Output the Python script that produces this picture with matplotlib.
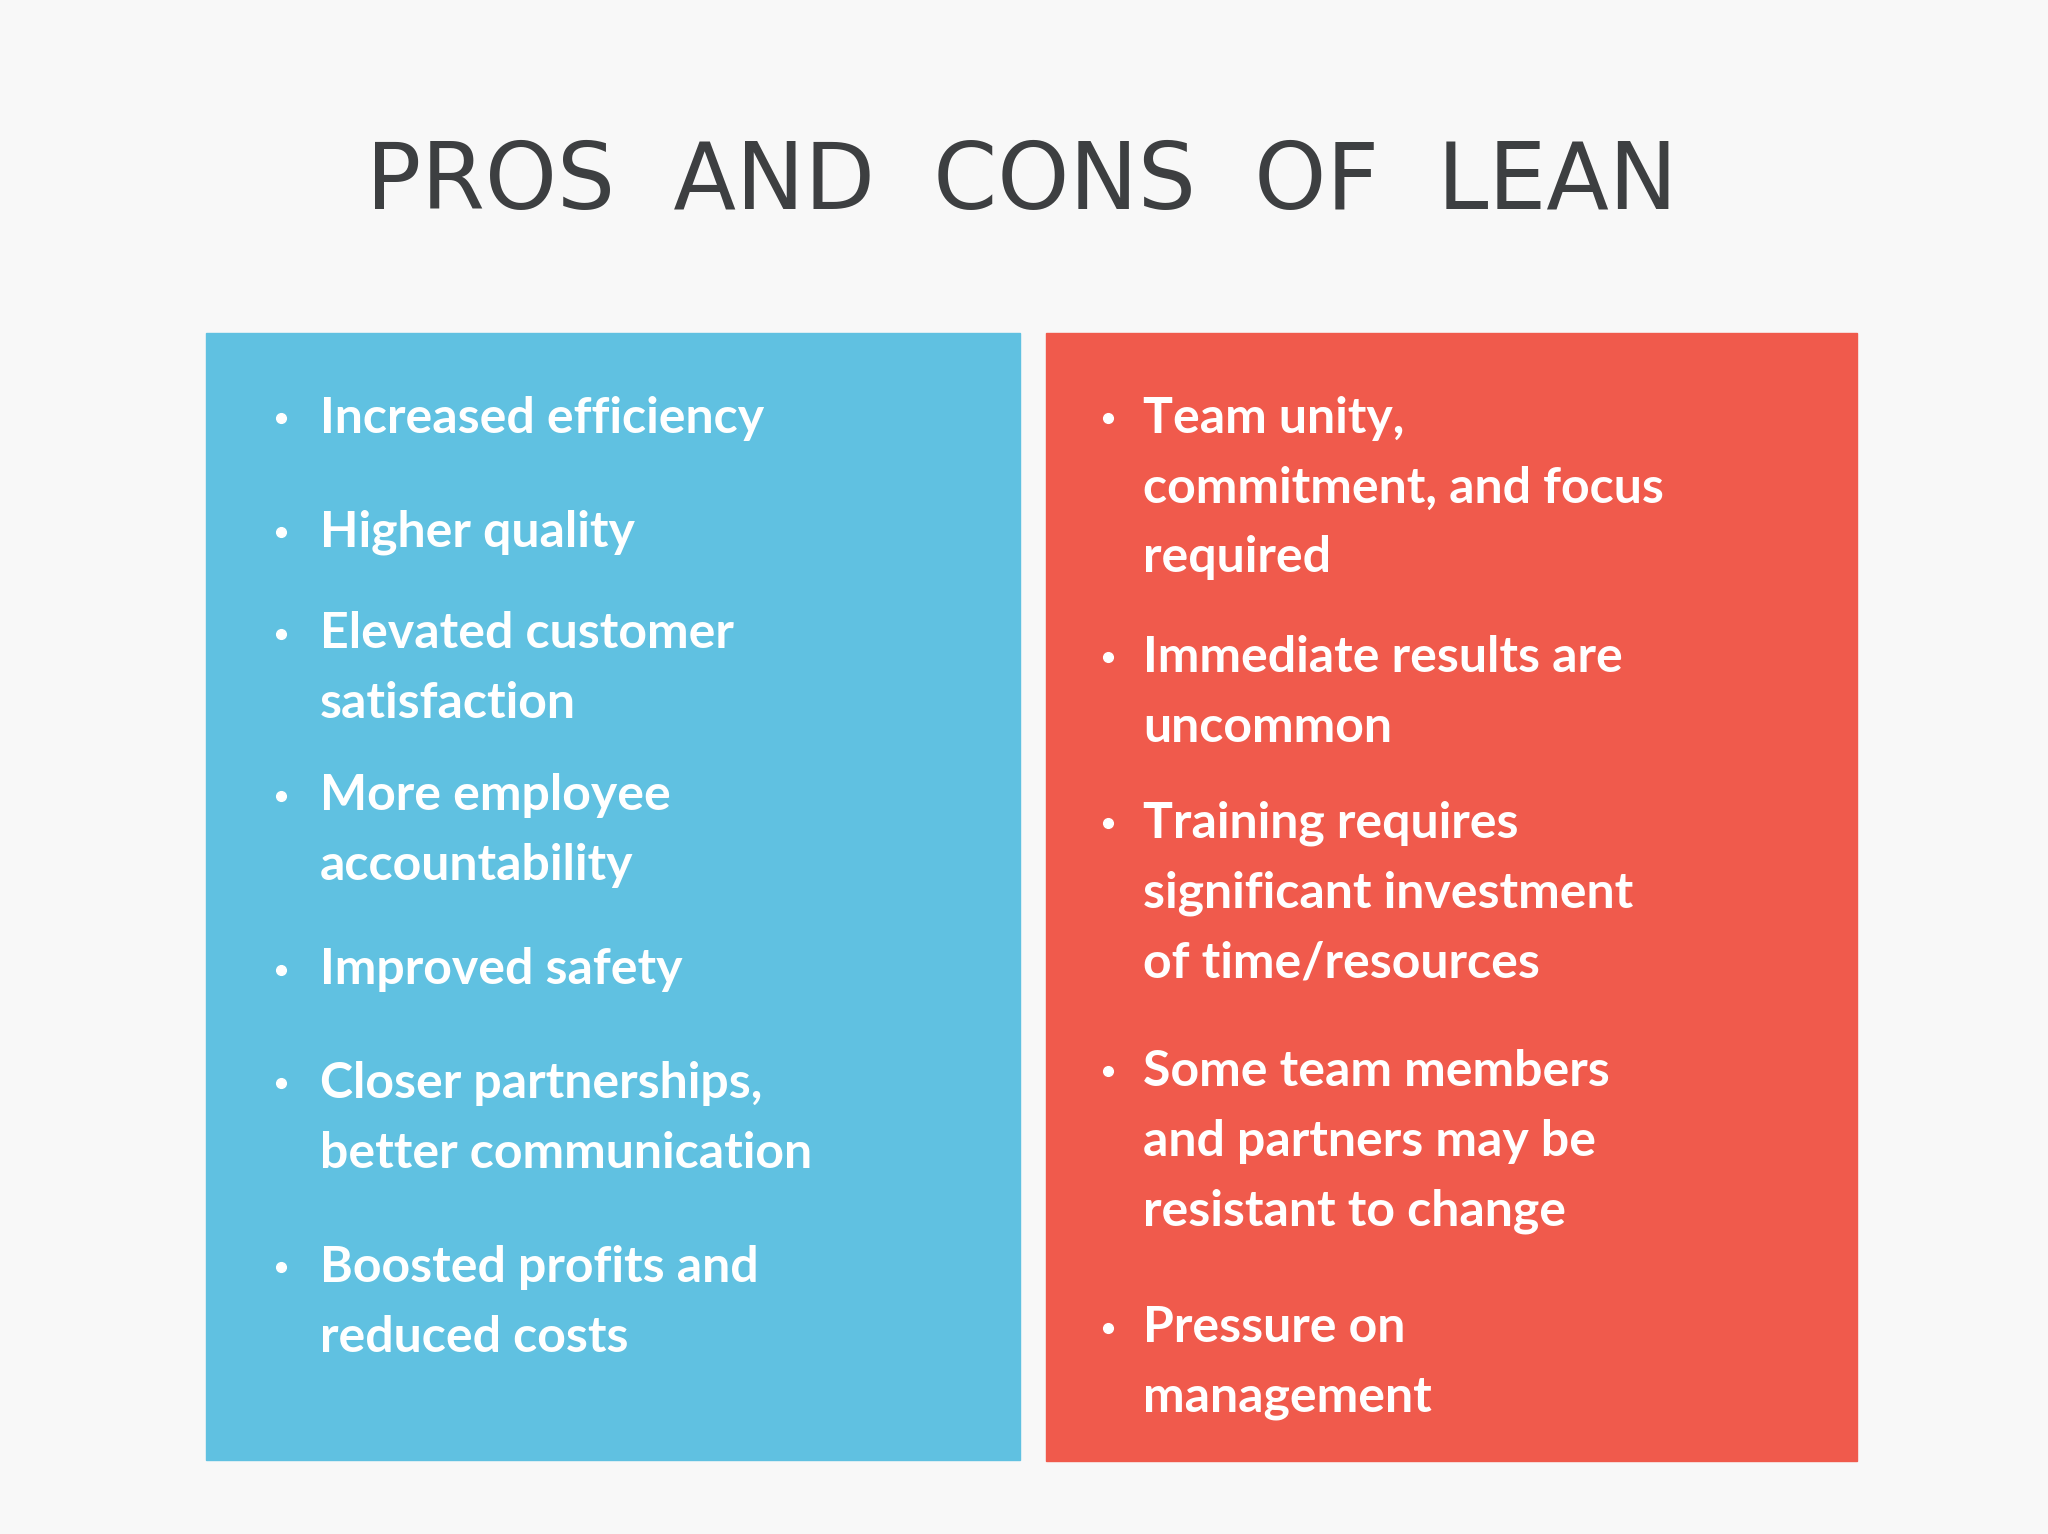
import matplotlib.pyplot as plt
from matplotlib.patches import Rectangle

W, H = 1568, 1174  # layout units (reference proportions)

title = "PROS AND CONS OF LEAN"
pros = [
    ["Increased efficiency"],
    ["Higher quality"],
    ["Elevated customer", "satisfaction"],
    ["More employee", "accountability"],
    ["Improved safety"],
    ["Closer partnerships,", "better communication"],
    ["Boosted profits and", "reduced costs"],
]
pros_y = [320, 407, 485, 609, 742, 829, 970]
cons = [
    ["Team unity,", "commitment, and focus", "required"],
    ["Immediate results are", "uncommon"],
    ["Training requires", "significant investment", "of time/resources"],
    ["Some team members", "and partners may be", "resistant to change"],
    ["Pressure on", "management"],
]
cons_y = [320, 503, 630, 820, 1016]

fig = plt.figure(figsize=(20.48, 15.34), dpi=100)
fig.patch.set_facecolor("#f8f8f8")
ax = fig.add_axes([0, 0, 1, 1])
ax.set_xlim(0, W)
ax.set_ylim(H, 0)
ax.axis("off")

ax.add_patch(Rectangle((158, 255), 623, 862, color="#60c1e1"))
ax.add_patch(Rectangle((801, 255), 621, 863, color="#f05a4c"))

ax.text(782, 140, "  ".join(title.split(" ")), ha="center", va="center",
        fontsize=66, color="#3d3f41", family=["Liberation Sans Narrow", "DejaVu Sans"])


def spaced(s):
    return "\u200a".join(s)


def draw_list(items, ys, bx, tx):
    for lines, y in zip(items, ys):
        ax.plot(bx, y, "o", color="white", ms=7)
        for i, line in enumerate(lines):
            ax.text(tx, y + i * 53.5, line, ha="left", va="center", fontsize=36,
                    color="white", fontweight="bold", family=["Lato", "DejaVu Sans"])


draw_list(pros, pros_y, 215, 245)
draw_list(cons, cons_y, 848, 875)

fig.savefig("out.png", dpi=100, facecolor=fig.get_facecolor())
